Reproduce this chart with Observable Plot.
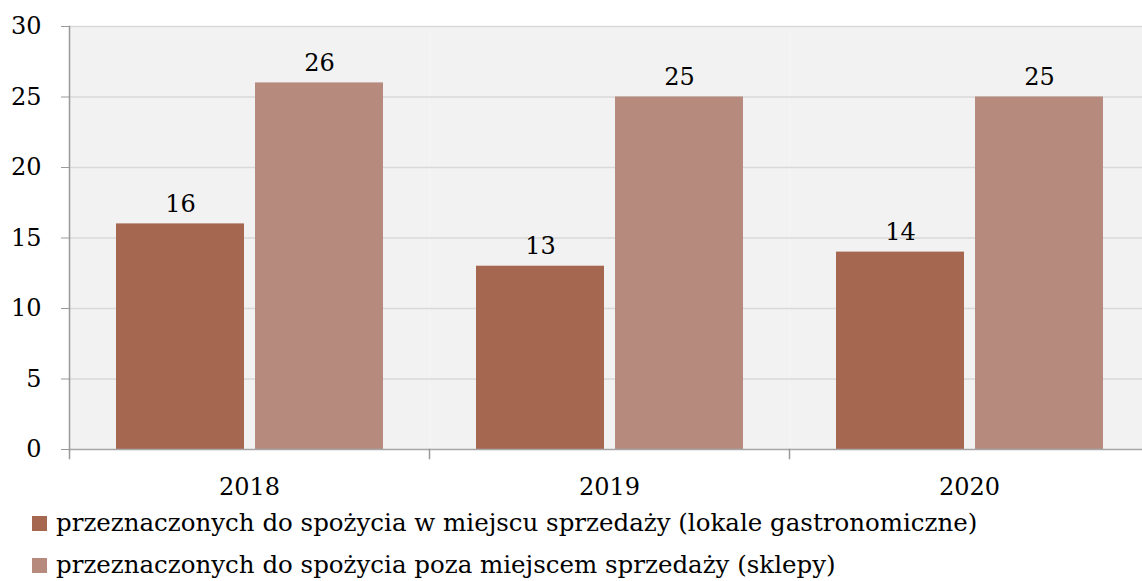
<!DOCTYPE html>
<html>
<head>
<meta charset="utf-8">
<script src="https://cdn.jsdelivr.net/npm/d3@7"></script>
<script src="https://cdn.jsdelivr.net/npm/@observablehq/plot@0.6"></script>
<style>
  html, body { margin: 0; padding: 0; background: #fff; }
  #chart { width: 1142px; overflow: hidden; }
  .legend { font-family: "DejaVu Serif", serif; font-size: 24.5px; color: #000; margin-left: 32px; margin-top: -3px; }
  .legend .item { display: flex; align-items: center; height: 42px; white-space: nowrap; line-height: 1; }
  .legend .sw { width: 15px; height: 15px; margin-right: 9px; flex: none; }
</style>
</head>
<body>
<div id="chart"></div>
<script>
const years = ["2018", "2019", "2020"];
const seriesNames = [
  "przeznaczonych do spożycia w miejscu sprzedaży (lokale gastronomiczne)",
  "przeznaczonych do spożycia poza miejscem sprzedaży (sklepy)"
];
const lokale = [16, 13, 14];
const sklepy = [26, 25, 25];
const colors = ["#a5674f", "#b68b7e"];
const yTicks = [0, 5, 10, 15, 20, 25, 30];

const data = [];
years.forEach((yr, i) => {
  data.push({year: yr, series: seriesNames[0], value: lokale[i]});
  data.push({year: yr, series: seriesNames[1], value: sklepy[i]});
});

const W = 1142, H = 505, mT = 26, mB = 56, mL = 68, mR = -8;

const chart = Plot.plot({
  width: W,
  height: H,
  marginTop: mT,
  marginBottom: mB,
  marginLeft: mL,
  marginRight: mR,
  style: {fontFamily: "DejaVu Serif, serif", fontSize: "24px", color: "#000", background: "transparent", overflow: "visible"},
  fx: {domain: years, padding: 0, label: null},
  x: {domain: seriesNames, paddingInner: 0.08, paddingOuter: 0.33, axis: null},
  y: {domain: [0, 30], label: null},
  color: {domain: seriesNames, range: colors},
  marks: [
    Plot.frame({fill: "#f2f2f2", stroke: null}),
    Plot.ruleY(yTicks.filter(d => d > 0), {stroke: "#d9d9d9", strokeWidth: 1.5}),
    Plot.barY(data, {fx: "year", x: "series", y: "value", fill: "series"}),
    Plot.ruleY([0], {stroke: "#a6a6a6", strokeWidth: 1.5}),
    Plot.text(data, {fx: "year", x: "series", y: "value", text: d => String(d.value), lineAnchor: "bottom", dy: -12, fontSize: 24, fill: "#000"}),
    Plot.frame({anchor: "left", facetAnchor: "left", stroke: "#999", strokeWidth: 1.5, insetBottom: -9}),
    Plot.frame({anchor: "right", stroke: "#999", strokeWidth: 1.5, insetTop: H - mT - mB, insetBottom: -9}),
    Plot.axisY({ticks: yTicks, tickSize: 8, tickPadding: 20, stroke: "#999", fontSize: 24, tickFormat: d => String(d)}),
    Plot.axisFx({anchor: "bottom", tickSize: 0, tickPadding: 28, fontSize: 24, label: null})
  ]
});
document.getElementById("chart").appendChild(chart);

const legend = document.createElement("div");
legend.className = "legend";
seriesNames.forEach((name, i) => {
  const item = document.createElement("div");
  item.className = "item";
  const sw = document.createElement("span");
  sw.className = "sw";
  sw.style.background = colors[i];
  const t = document.createElement("span");
  t.textContent = name;
  item.appendChild(sw);
  item.appendChild(t);
  legend.appendChild(item);
});
document.getElementById("chart").appendChild(legend);
</script>
</body>
</html>
